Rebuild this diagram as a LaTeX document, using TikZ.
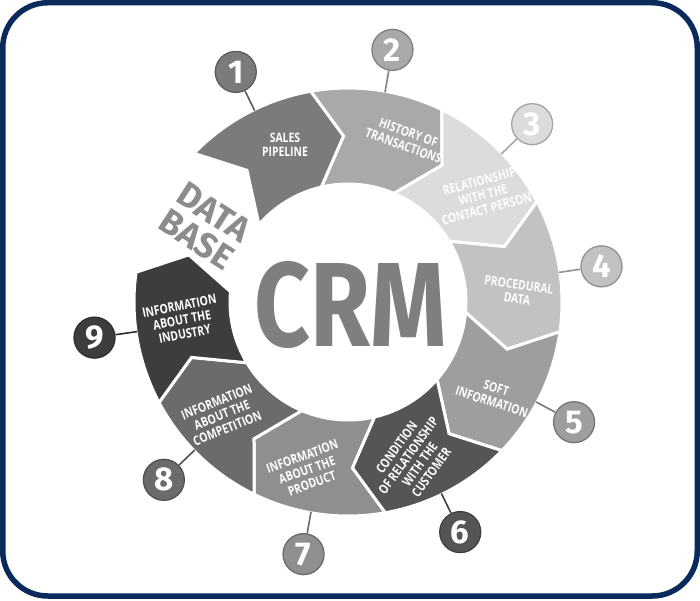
\documentclass[tikz,border=0pt]{standalone}
\usepackage{fontspec}
\setmainfont{Open Sans}
\newfontfamily\segfont[FakeStretch=0.8]{Open Sans}
\newfontfamily\bigfont{Fira Sans}
\usetikzlibrary{calc}
\definecolor{navy}{HTML}{0B2A5C}
\definecolor{g1}{HTML}{7B7B7B}
\definecolor{g2}{HTML}{A9A9A9}
\definecolor{g3}{HTML}{DCDCDC}
\definecolor{g4}{HTML}{C2C2C2}
\definecolor{g5}{HTML}{9E9E9E}
\definecolor{g6}{HTML}{555555}
\definecolor{g7}{HTML}{8F8F8F}
\definecolor{g8}{HTML}{6B6B6B}
\definecolor{g9}{HTML}{3D3D3D}
\definecolor{crmgray}{HTML}{7F7F7F}
\definecolor{dbgray}{HTML}{8C8C8C}
\tikzset{
  seg/.style={draw=white, line width=3pt},
  segtext/.style={text=white, align=center, inner sep=0pt,
    font=\segfont\bfseries\fontsize{13}{14.3}\selectfont},
  badge/.style={circle, minimum size=41pt, inner sep=0pt, line width=1.3pt,
    text=white, font=\bigfont\bfseries\fontsize{33}{33}\selectfont},
  conn/.style={line width=1.6pt},
}
\begin{document}
\begin{tikzpicture}[x=1pt,y=1pt]
\useasboundingbox (0,0) rectangle (700,600);
\fill[white] (0,0) rectangle (700,600);
\draw[navy, line width=5.5pt, rounded corners=45pt] (2.75,4) rectangle (697.25,597.25);

\begin{scope}[shift={(348,298)}]
  \foreach \k in {1,...,9} {
    \pgfmathsetmacro\H{100-36*(\k-1)}
    \pgfmathsetmacro\T{\H+36}
    \pgfmathsetmacro\A{\H+16}
    \filldraw[seg, fill=g\k]
      (\T:214) arc[start angle=\T, end angle=\H, radius=214]
      -- (\H-8.5:166) -- (\H+3:118)
      arc[start angle=\H+3, end angle=\T+3, radius=118]
      -- (\T-8.5:166) -- cycle;
    \coordinate (o\k) at (\A:213);
    \node[badge, fill=g\k, draw=g\k!75!black] (n\k) at (\A:256) {\k};
    \draw[conn, g\k!75!black] (n\k) -- (o\k);
  }
\end{scope}

\node[segtext] (s1) at (285,455) {SALES\\PIPELINE};
\node[segtext, rotate=-20] (s2) at (406,461) {HISTORY OF\\TRANSACTIONS};
\node[segtext, rotate=15] (s3) at (483,405) {RELATIONSHIP\\WITH THE\\CONTACT PERSON};
\node[segtext, rotate=-8] (s4) at (518,308) {PROCEDURAL\\DATA};
\node[segtext, rotate=-18] (s5) at (494,205) {SOFT\\INFORMATION};
\node[segtext, rotate=54] (s6) at (414,140) {CONDITION\\OF RELATIONSHIP\\WITH THE\\CUSTOMER};
\node[segtext, rotate=20] (s7) at (307,130) {INFORMATION\\ABOUT THE\\PRODUCT};
\node[segtext, rotate=22] (s8) at (222,185) {INFORMATION\\ABOUT THE\\COMPETITION};
\node[segtext, rotate=11] (s9) at (182,280) {INFORMATION\\ABOUT THE\\INDUSTRY};

\node[text=dbgray, align=center, rotate=-33, inner sep=0pt,
  font=\bigfont\bfseries\fontsize{35}{32}\selectfont] (db) at (205,374) {DATA\\BASE};
\node[text=crmgray, inner sep=0pt, font=\bigfont\bfseries] (crm) at (351,295)
  {\resizebox{192pt}{85pt}{CRM}};
\end{tikzpicture}
\end{document}
